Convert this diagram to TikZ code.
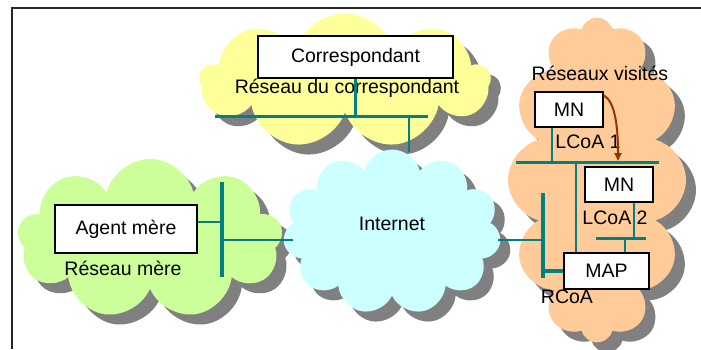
\documentclass[tikz,border=0pt]{standalone}
\usepackage{fontspec}
\setmainfont{Liberation Sans}
\usetikzlibrary{shapes.symbols,shadows,arrows.meta}
\definecolor{jaune}{RGB}{255,255,153}
\definecolor{vertclair}{RGB}{204,255,153}
\definecolor{cyanclair}{RGB}{204,255,255}
\definecolor{orangeclair}{RGB}{255,204,153}
\definecolor{sarcelle}{RGB}{0,128,128}
\definecolor{brun}{RGB}{153,51,0}
\tikzset{
  nuage/.style={cloud, cloud puffs=#1, cloud puff arc=150, cloud ignores aspect, draw=none, inner sep=0pt,
    drop shadow={shadow xshift=10pt, shadow yshift=-10pt, opacity=1, fill=gray}},
  boite/.style={draw=black, fill=white, line width=1.3pt, inner sep=0pt},
  texte/.style={inner sep=0pt},
  bus/.style={draw=sarcelle, line width=3pt},
  barre/.style={draw=sarcelle, line width=4pt},
  lien/.style={draw=sarcelle, line width=2.2pt},
  fleche/.style={draw=brun, line width=2pt, -{Triangle[length=8pt,width=7pt]}}
}

\begin{document}
\begin{tikzpicture}[x=1pt,y=-1pt,font=\fontsize{19.5}{23}\selectfont]
\useasboundingbox (0,0) rectangle (701,349);
% cadre
\draw[black!85, line width=2pt] (11,8) -- (701,8);
\draw[black!85, line width=2pt] (12,8) -- (12,349);

% nuages
\node[nuage=9, fill=jaune, minimum width=290pt, minimum height=135pt] (ncorr) at (345,81) {};
\node[nuage=9, fill=vertclair, minimum width=265pt, minimum height=160pt] (nmere) at (150,239) {};
\node[nuage=12, fill=orangeclair, minimum width=178pt, minimum height=325pt] (nvis) at (597,180) {};
\node[nuage=11, fill=cyanclair, minimum width=218pt, minimum height=165pt] (ninet) at (392,232) {};

% textes
\node[texte] (inet) at (392,224) {Internet};
\node[texte] (tcorr) at (347,88) {Réseau du correspondant};
\node[texte] (tmere) at (123,268) {Réseau mère};
\node[texte] (tvis) at (600,73) {Réseaux visités};
\node[texte] (lcoa1) at (588,142) {LCoA 1};
\node[texte] (lcoa2) at (615,218) {LCoA 2};
\node[texte] (rcoa) at (567,297) {RCoA};

% boites
\node[boite, minimum width=195pt, minimum height=42pt] (corr) at (355.5,57) {Correspondant};
\node[boite, minimum width=142pt, minimum height=48pt] (mere) at (126,229) {Agent mère};
\node[boite, minimum width=68pt, minimum height=35pt] (mn1) at (569,109.5) {MN};
\node[boite, minimum width=68pt, minimum height=35pt] (mn2) at (619,184.5) {MN};
\node[boite, minimum width=85pt, minimum height=36pt] (map) at (606.5,271) {MAP};

% bus et liens
\coordinate (busC1) at (215,116);
\coordinate (busC2) at (428,116);
\coordinate (busCi) at (409,116);
\coordinate (inetN) at (409,152);
\draw[bus] (busC1) -- (busC2);
\draw[lien] (corr.south) -- (corr.south |- busC1);
\draw[lien] (busCi) -- (inetN);

\coordinate (barM1) at (222,182);
\coordinate (barM2) at (222,277);
\coordinate (inetW) at (293,240);
\draw[barre] (barM1) -- (barM2);
\draw[lien] ([yshift=7pt]mere.east) -- ([yshift=7pt]mere.east -| barM1);
\draw[lien] (inetW) -- (inetW -| barM1);

\coordinate (barV1) at (543,193);
\coordinate (barV2) at (543,278);
\coordinate (inetE) at (498,240);
\draw[barre] (barV1) -- (barV2);
\draw[lien] (inetE) -- (inetE -| barV1);
\draw[barre] (map.west) -- (map.west -| barV1);

\coordinate (busV1) at (516,162);
\coordinate (busV2) at (659,162);
\coordinate (busVm) at (576,162);
\draw[bus] (busV1) -- (busV2);
\draw[lien] ([xshift=-17pt]mn1.south) -- ([xshift=-17pt]mn1.south |- busV1);
\draw[lien] (busVm) -- (busVm |- map.north);

\coordinate (busL1) at (596,238);
\coordinate (busL2) at (646,238);
\coordinate (busLm) at (625,238);
\draw[bus] (busL1) -- (busL2);
\draw[lien] ([xshift=15pt]mn2.south) -- ([xshift=15pt]mn2.south |- busL1);
\draw[lien] (busLm) -- (busLm |- map.north);

% deplacement
\coordinate (arrivee) at (618,161);
\draw[fleche] ([yshift=-4pt]mn1.north east) .. controls (614,101) and (618,122) .. (arrivee);
\end{tikzpicture}
\end{document}
